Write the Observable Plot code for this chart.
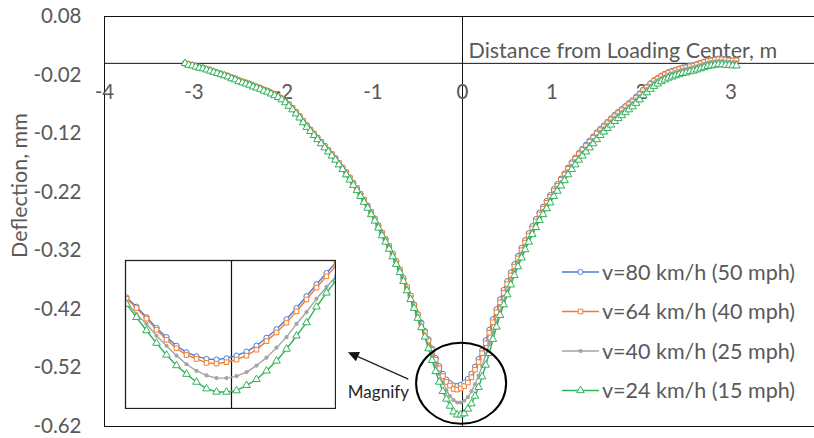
<!DOCTYPE html>
<html>
<head>
<meta charset="utf-8">
<script src="https://cdn.jsdelivr.net/npm/d3@7"></script>
<script src="https://cdn.jsdelivr.net/npm/@observablehq/plot@0.6"></script>
<style>
  html, body { margin: 0; padding: 0; background: #fff; }
  #chart { position: relative; width: 814px; height: 438px; overflow: hidden; background: #fff; }
  #chart > svg { position: absolute; max-width: none; }
</style>
</head>
<body>
<div id="chart"></div>
<script>
// Distance from the loading centre (m)
const xs = [
  -3.10,-3.06,-3.02,-2.98,-2.94,-2.90,-2.86,-2.82,-2.78,-2.74,
  -2.70,-2.66,-2.62,-2.58,-2.54,-2.50,-2.46,-2.42,-2.38,-2.34,
  -2.30,-2.26,-2.22,-2.18,-2.14,-2.10,-2.06,-2.02,-1.98,-1.94,
  -1.90,-1.86,-1.82,-1.78,-1.74,-1.70,-1.66,-1.62,-1.58,-1.54,
  -1.50,-1.46,-1.42,-1.38,-1.34,-1.30,-1.26,-1.22,-1.18,-1.14,
  -1.10,-1.06,-1.02,-0.98,-0.94,-0.90,-0.86,-0.82,-0.78,-0.74,
  -0.70,-0.66,-0.62,-0.58,-0.54,-0.50,-0.46,-0.42,-0.38,-0.34,
  -0.30,-0.26,-0.22,-0.18,-0.14,-0.10,-0.06,-0.02, 0.02, 0.06,
   0.10, 0.14, 0.18, 0.22, 0.26, 0.30, 0.34, 0.38, 0.42, 0.46,
   0.50, 0.54, 0.58, 0.62, 0.66, 0.70, 0.74, 0.78, 0.82, 0.86,
   0.90, 0.94, 0.98, 1.02, 1.06, 1.10, 1.14, 1.18, 1.22, 1.26,
   1.30, 1.34, 1.38, 1.42, 1.46, 1.50, 1.54, 1.58, 1.62, 1.66,
   1.70, 1.74, 1.78, 1.82, 1.86, 1.90, 1.94, 1.98, 2.02, 2.06,
   2.10, 2.14, 2.18, 2.22, 2.26, 2.30, 2.34, 2.38, 2.42, 2.46,
   2.50, 2.54, 2.58, 2.62, 2.66, 2.70, 2.74, 2.78, 2.82, 2.86,
   2.90, 2.94, 2.98, 3.02, 3.06
];

// Surface deflection (mm) for each vehicle speed
const v80 = [
  0.000,-0.002,-0.003,-0.005,-0.007,-0.008,-0.010,-0.012,-0.014,-0.016,
  -0.018,-0.020,-0.022,-0.024,-0.026,-0.029,-0.031,-0.033,-0.035,-0.038,
  -0.040,-0.042,-0.045,-0.047,-0.050,-0.053,-0.056,-0.060,-0.065,-0.070,
  -0.076,-0.083,-0.090,-0.098,-0.106,-0.113,-0.120,-0.127,-0.134,-0.141,
  -0.148,-0.155,-0.162,-0.170,-0.178,-0.186,-0.195,-0.204,-0.213,-0.223,
  -0.233,-0.243,-0.254,-0.265,-0.277,-0.289,-0.300,-0.312,-0.325,-0.338,
  -0.352,-0.367,-0.382,-0.397,-0.412,-0.428,-0.443,-0.457,-0.471,-0.487,
  -0.503,-0.517,-0.530,-0.540,-0.546,-0.550,-0.551,-0.549,-0.545,-0.539,
  -0.530,-0.518,-0.505,-0.490,-0.473,-0.455,-0.437,-0.420,-0.403,-0.387,
  -0.372,-0.357,-0.343,-0.329,-0.315,-0.302,-0.290,-0.278,-0.266,-0.255,
  -0.245,-0.235,-0.225,-0.215,-0.206,-0.197,-0.188,-0.178,-0.169,-0.161,
  -0.153,-0.146,-0.139,-0.132,-0.125,-0.118,-0.112,-0.106,-0.100,-0.094,
  -0.088,-0.083,-0.078,-0.073,-0.068,-0.063,-0.057,-0.051,-0.045,-0.040,
  -0.034,-0.029,-0.025,-0.021,-0.018,-0.015,-0.013,-0.011,-0.009,-0.007,
  -0.006,-0.004,-0.003,-0.001, 0.001, 0.003, 0.005, 0.006, 0.007, 0.008,
   0.008, 0.007, 0.006, 0.005, 0.005
];
const v64 = [
  0.000,-0.002,-0.003,-0.005,-0.007,-0.008,-0.010,-0.012,-0.014,-0.016,
  -0.018,-0.020,-0.022,-0.024,-0.026,-0.029,-0.031,-0.033,-0.035,-0.038,
  -0.040,-0.042,-0.045,-0.047,-0.050,-0.053,-0.056,-0.060,-0.065,-0.070,
  -0.076,-0.083,-0.090,-0.098,-0.106,-0.113,-0.120,-0.127,-0.134,-0.141,
  -0.148,-0.155,-0.162,-0.170,-0.178,-0.186,-0.195,-0.204,-0.213,-0.223,
  -0.233,-0.243,-0.254,-0.265,-0.277,-0.289,-0.300,-0.312,-0.325,-0.338,
  -0.352,-0.367,-0.382,-0.397,-0.413,-0.429,-0.445,-0.459,-0.473,-0.489,
  -0.506,-0.521,-0.534,-0.544,-0.550,-0.556,-0.557,-0.555,-0.551,-0.545,
  -0.536,-0.523,-0.510,-0.495,-0.478,-0.460,-0.442,-0.425,-0.408,-0.392,
  -0.377,-0.362,-0.347,-0.333,-0.319,-0.306,-0.294,-0.282,-0.270,-0.258,
  -0.248,-0.238,-0.228,-0.218,-0.209,-0.199,-0.190,-0.180,-0.171,-0.163,
  -0.155,-0.148,-0.141,-0.134,-0.127,-0.120,-0.114,-0.108,-0.102,-0.096,
  -0.090,-0.085,-0.080,-0.075,-0.070,-0.065,-0.059,-0.053,-0.046,-0.041,
  -0.035,-0.030,-0.026,-0.022,-0.019,-0.016,-0.014,-0.012,-0.010,-0.008,
  -0.007,-0.005,-0.004,-0.002, 0.000, 0.002, 0.004, 0.005, 0.006, 0.007,
   0.007, 0.006, 0.005, 0.005, 0.005
];
const v40 = [
  0.000,-0.002,-0.004,-0.006,-0.008,-0.009,-0.011,-0.013,-0.015,-0.017,
  -0.019,-0.021,-0.023,-0.025,-0.027,-0.030,-0.032,-0.034,-0.036,-0.039,
  -0.041,-0.043,-0.046,-0.048,-0.051,-0.054,-0.057,-0.061,-0.066,-0.071,
  -0.077,-0.084,-0.091,-0.099,-0.107,-0.114,-0.121,-0.128,-0.135,-0.142,
  -0.149,-0.156,-0.163,-0.171,-0.179,-0.187,-0.196,-0.205,-0.214,-0.224,
  -0.234,-0.244,-0.255,-0.266,-0.278,-0.290,-0.301,-0.313,-0.327,-0.340,
  -0.354,-0.369,-0.385,-0.400,-0.416,-0.433,-0.449,-0.464,-0.482,-0.497,
  -0.515,-0.530,-0.545,-0.558,-0.568,-0.575,-0.579,-0.579,-0.576,-0.570,
  -0.560,-0.548,-0.533,-0.517,-0.497,-0.479,-0.459,-0.441,-0.424,-0.406,
  -0.389,-0.372,-0.356,-0.341,-0.326,-0.312,-0.299,-0.287,-0.275,-0.263,
  -0.252,-0.242,-0.232,-0.221,-0.212,-0.203,-0.194,-0.184,-0.175,-0.167,
  -0.159,-0.152,-0.145,-0.138,-0.131,-0.124,-0.117,-0.111,-0.105,-0.099,
  -0.093,-0.088,-0.083,-0.078,-0.073,-0.068,-0.062,-0.056,-0.050,-0.044,
  -0.038,-0.033,-0.029,-0.025,-0.022,-0.019,-0.017,-0.015,-0.013,-0.011,
  -0.010,-0.008,-0.007,-0.005,-0.003,-0.001, 0.001, 0.002, 0.003, 0.004,
   0.004, 0.003, 0.002, 0.002, 0.002
];
const v24 = [
  0.000,-0.003,-0.004,-0.006,-0.008,-0.009,-0.011,-0.013,-0.015,-0.017,
  -0.019,-0.021,-0.023,-0.026,-0.028,-0.031,-0.033,-0.035,-0.037,-0.040,
  -0.042,-0.044,-0.047,-0.049,-0.052,-0.055,-0.058,-0.062,-0.067,-0.073,
  -0.079,-0.086,-0.093,-0.101,-0.109,-0.116,-0.123,-0.130,-0.137,-0.144,
  -0.151,-0.158,-0.165,-0.173,-0.181,-0.190,-0.199,-0.208,-0.217,-0.227,
  -0.237,-0.247,-0.258,-0.269,-0.281,-0.294,-0.305,-0.317,-0.330,-0.343,
  -0.357,-0.372,-0.388,-0.403,-0.418,-0.435,-0.451,-0.467,-0.487,-0.507,
  -0.526,-0.544,-0.560,-0.573,-0.585,-0.595,-0.600,-0.600,-0.598,-0.590,
  -0.581,-0.568,-0.553,-0.535,-0.515,-0.495,-0.471,-0.450,-0.430,-0.412,
  -0.395,-0.378,-0.362,-0.347,-0.332,-0.318,-0.305,-0.292,-0.280,-0.268,
  -0.258,-0.248,-0.238,-0.227,-0.218,-0.209,-0.200,-0.190,-0.181,-0.173,
  -0.165,-0.158,-0.151,-0.144,-0.137,-0.130,-0.123,-0.117,-0.111,-0.105,
  -0.099,-0.094,-0.089,-0.084,-0.079,-0.074,-0.068,-0.062,-0.055,-0.050,
  -0.044,-0.039,-0.035,-0.031,-0.028,-0.025,-0.023,-0.021,-0.019,-0.017,
  -0.016,-0.014,-0.013,-0.011,-0.009,-0.007,-0.005,-0.004,-0.003,-0.002,
  -0.002,-0.003,-0.003,-0.004,-0.004
];

const seriesNames = ["v=80 km/h (50 mph)", "v=64 km/h (40 mph)", "v=40 km/h (25 mph)", "v=24 km/h (15 mph)"];
const xTicks = [-4, -3, -2, -1, 0, 1, 2, 3];
const yTicks = [0.08, -0.02, -0.12, -0.22, -0.32, -0.42, -0.52, -0.62];
const xTitle = "Distance from Loading Center, m";
const yTitle = "Deflection, mm";
const magnifyLabel = "Magnify";
// annotation anchors in data units: circled trough, arrow tail -> head, label
const magnifyCenter = [-0.01, -0.547];
const arrowFrom = [-0.60, -0.540];
const arrowTo = [-1.275, -0.494];
const magnifyText = [-0.94, -0.562];
// zoomed window shown in the inset
const insetX = [-0.424, 0.416];
const insetY = [-0.625, -0.401];

const FONT = "Lato, 'Open Sans', sans-serif";
const TEXT = "#595959";

const styles = [
  {values: v80, stroke: "#4A7BD0", symbol: "circle",   fill: "white",   r: 2.6, sw: 1},
  {values: v64, stroke: "#ED7D31", symbol: "square",   fill: "white",   r: 2.6, sw: 1},
  {values: v40, stroke: "#A5A5A5", symbol: "circle",   fill: "#A5A5A5", r: 2.1, sw: 0},
  {values: v24, stroke: "#2DB35A", symbol: "triangle", fill: "white",   r: 2.8, sw: 1}
];
const series = styles.map((s, k) => ({
  ...s,
  name: seriesNames[k],
  rows: xs.map((x, i) => ({x, y: s.values[i]}))
}));

function seriesMarks(clip) {
  return series.flatMap(s => [
    Plot.line(s.rows, {x: "x", y: "y", stroke: s.stroke, strokeWidth: 1.4, clip}),
    Plot.dot(s.rows, {x: "x", y: "y", symbol: s.symbol, r: s.r, fill: s.fill,
      stroke: s.sw ? s.stroke : "none", strokeWidth: s.sw, clip})
  ]);
}

const chart = document.getElementById("chart");

const main = Plot.plot({
  width: 830, height: 438,
  marginLeft: 104, marginRight: 10, marginTop: 16, marginBottom: 12,
  x: {domain: [-4, 4], axis: null},
  y: {domain: [-0.62, 0.08], axis: null},
  style: {fontFamily: FONT, background: "transparent", overflow: "visible", maxWidth: "none"},
  marks: [
    Plot.frame({stroke: "#111", strokeWidth: 1}),
    Plot.ruleY([0], {stroke: "#111", strokeWidth: 1}),
    Plot.ruleX([0], {stroke: "#111", strokeWidth: 1}),
    Plot.text(xTicks, {x: d => d, y: 0, dy: 29, text: d => String(d), fill: TEXT, fontSize: 20.5}),
    Plot.text(yTicks, {x: -4, y: d => d, dx: -23, textAnchor: "end", text: d => d.toFixed(2), fill: TEXT, fontSize: 20.5}),
    Plot.text([xTitle], {x: 0, frameAnchor: "top", dy: 26, dx: 6, textAnchor: "start", text: d => d, fill: TEXT, fontSize: 21.5}),
    Plot.text([yTitle], {frameAnchor: "left", dx: -84, dy: -36, rotate: -90, textAnchor: "middle", text: d => d, fill: TEXT, fontSize: 21.5}),
    ...seriesMarks(false),
    Plot.text([magnifyLabel], {x: magnifyText[0], y: magnifyText[1], text: d => d, fill: "#262626", fontSize: 17}),
    (index, scales) => {
      const g = d3.create("svg:g");
      g.append("ellipse")
        .attr("cx", scales.x(magnifyCenter[0])).attr("cy", scales.y(magnifyCenter[1]))
        .attr("rx", 45).attr("ry", 40.5)
        .attr("fill", "none").attr("stroke", "#000").attr("stroke-width", 2);
      const x1 = scales.x(arrowFrom[0]), y1 = scales.y(arrowFrom[1]);
      const x2 = scales.x(arrowTo[0]), y2 = scales.y(arrowTo[1]);
      const a = Math.atan2(y2 - y1, x2 - x1), L = 11, W = 5;
      const bx = x2 - L * Math.cos(a), by = y2 - L * Math.sin(a);
      g.append("line").attr("x1", x1).attr("y1", y1).attr("x2", bx).attr("y2", by)
        .attr("stroke", "#222").attr("stroke-width", 1.3);
      g.append("path")
        .attr("d", `M${x2},${y2}L${bx + W * Math.sin(a)},${by - W * Math.cos(a)}L${bx - W * Math.sin(a)},${by + W * Math.cos(a)}Z`)
        .attr("fill", "#111");
      return g.node();
    }
  ]
});
main.style.left = "0px";
main.style.top = "0px";
chart.appendChild(main);

// magnified view of the trough
const inset = Plot.plot({
  width: 212, height: 150,
  marginLeft: 1, marginRight: 1, marginTop: 1, marginBottom: 1,
  x: {domain: insetX, axis: null},
  y: {domain: insetY, axis: null},
  style: {background: "white", overflow: "hidden", maxWidth: "none"},
  marks: [
    Plot.ruleX([0], {stroke: "#111", strokeWidth: 1.2}),
    ...seriesMarks(true),
    Plot.frame({stroke: "#222", strokeWidth: 1.3})
  ]
});
inset.style.left = "124px";
inset.style.top = "259px";
chart.appendChild(inset);

// legend
const legend = d3.create("svg").attr("width", 258).attr("height", 160)
  .style("left", "555px").style("top", "252px").style("font-family", FONT);
series.forEach((s, i) => {
  const y = 20 + i * 39.5;
  const g = legend.append("g").attr("transform", `translate(0,${y})`);
  g.append("line").attr("x1", 7).attr("x2", 44).attr("stroke", s.stroke).attr("stroke-width", 1.4);
  const sym = {circle: d3.symbolCircle, square: d3.symbolSquare, triangle: d3.symbolTriangle}[s.symbol];
  g.append("path").attr("transform", "translate(25.5,0)")
    .attr("d", d3.symbol(sym, Math.PI * s.r * s.r)())
    .attr("fill", s.fill).attr("stroke", s.sw ? s.stroke : "none").attr("stroke-width", s.sw);
  g.append("text").attr("x", 47).attr("dy", "0.35em").attr("fill", TEXT)
    .attr("font-size", 21.5).text(s.name);
});
chart.appendChild(legend.node());
</script>
</body>
</html>
